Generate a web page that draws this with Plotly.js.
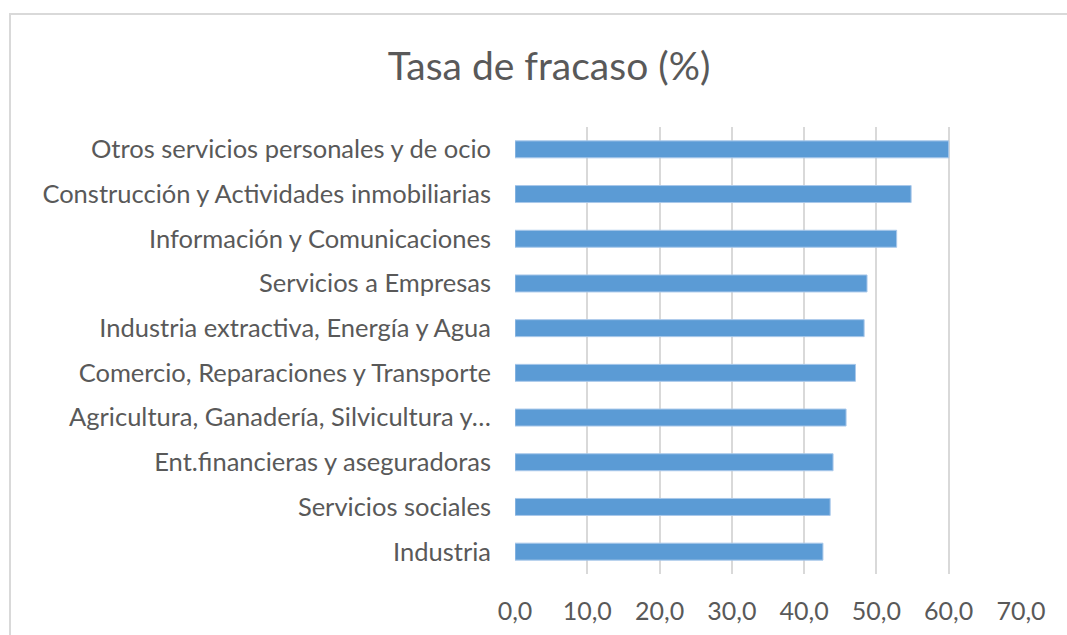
<!DOCTYPE html>
<html><head><meta charset="utf-8">
<script src="https://cdn.plot.ly/plotly-3.0.1.min.js"></script>
<style>body{margin:0;background:#fff}#c{width:1067px;height:635px}</style>
</head><body><div id="c"></div>
<script>
const categories = [
  "Industria",
  "Servicios sociales",
  "Ent.financieras y aseguradoras",
  "Agricultura, Ganadería, Silvicultura y…",
  "Comercio, Reparaciones y Transporte",
  "Industria extractiva, Energía y Agua",
  "Servicios a Empresas",
  "Información y Comunicaciones",
  "Construcción y Actividades inmobiliarias",
  "Otros servicios personales y de ocio"
];
const values = [42.6, 43.6, 44.0, 45.8, 47.1, 48.3, 48.7, 52.8, 54.8, 60.0];
const xTicks = [0, 10, 20, 30, 40, 50, 60, 70];
const xTickLabels = ["0,0", "10,0", "20,0", "30,0", "40,0", "50,0", "60,0", "70,0"];

const font = "Lato, 'Open Sans', sans-serif";
const data = [{
  type: 'bar', orientation: 'h',
  x: values, y: categories,
  marker: {color: '#5b9bd5', line: {color: '#a9c8ea', width: 1}},
  hoverinfo: 'x+y'
}];
const layout = {
  width: 1067, height: 635,
  margin: {l: 515, r: 46, t: 127, b: 61},
  paper_bgcolor: '#fff', plot_bgcolor: '#fff',
  bargap: 0.62,
  showlegend: false,
  title: {text: 'Tasa de fracaso (%)', x: 549/1067, xref: 'container', xanchor: 'center',
          y: 1 - 66/635, yref: 'container', yanchor: 'middle',
          font: {family: font, size: 39, color: '#595959'}},
  xaxis: {range: [0, 70], tickvals: xTicks, ticktext: xTickLabels,
          showgrid: true, gridcolor: '#d9d9d9', gridwidth: 2,
          zeroline: false, showline: false, ticks: '',
          ticklabelstandoff: 20,
          tickfont: {family: font, size: 25, color: '#595959'}},
  yaxis: {type: 'category', automargin: false, showgrid: false, zeroline: false,
          showline: false, ticks: '', ticklabelstandoff: 23,
          tickfont: {family: font, size: 25.5, color: '#595959'}},
  shapes: [{type: 'path', xref: 'paper', yref: 'paper',
            path: 'M -0.998,-0.2 L -0.998,1.253 L 1.2,1.253',
            line: {color: '#d9d9d9', width: 2}}]
};
Plotly.newPlot('c', data, layout, {displayModeBar: false, staticPlot: true});
</script></body></html>
